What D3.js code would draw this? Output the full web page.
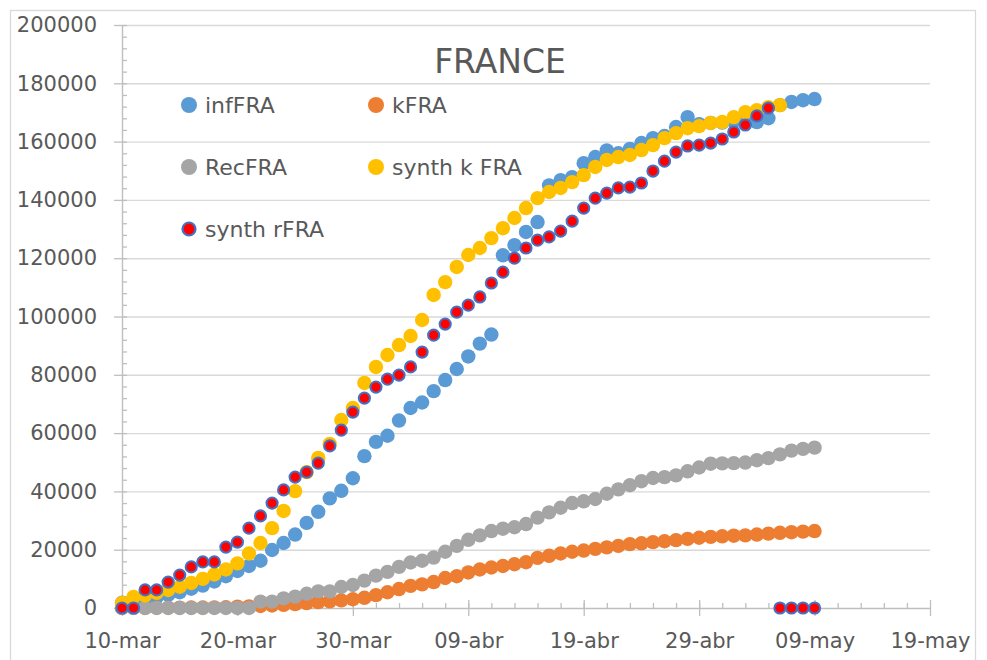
<!DOCTYPE html>
<html>
<head>
<meta charset="utf-8">
<script src="https://cdnjs.cloudflare.com/ajax/libs/d3/7.8.5/d3.min.js"></script>
<style>
body { margin: 0; background: #fff; }
text { font-family: "DejaVu Sans", sans-serif; fill: #595959; }
</style>
</head>
<body>
<div id="chart"></div>
<script>
var margin = {top: 25, right: 57, bottom: 52, left: 122};
var width = 987 - margin.left - margin.right;
var height = 660 - margin.top - margin.bottom;

// Data Setup (one value per day, starting 10-mar)
var startDay = "2020-03-10";
var endDay = "2020-05-19";
var xTickDays = ["2020-03-10", "2020-03-20", "2020-03-30", "2020-04-09", "2020-04-19", "2020-04-29", "2020-05-09", "2020-05-19"];
var yTicks = [0, 20000, 40000, 60000, 80000, 100000, 120000, 140000, 160000, 180000, 200000];
var seriesNames = ["infFRA", "kFRA", "RecFRA", "synth k FRA", "synth rFRA"];

var infFRA = [1800, 2300, 2900, 3700, 4500, 5400, 6600, 7700, 9100, 10900,
  12700, 14400, 16200, 19900, 22300, 25200, 29200, 33000, 37600, 40200,
  44500, 52100, 57000, 59100, 64300, 68600, 70500, 74400, 78200, 82000,
  86300, 90700, 93800, 121000, 124500, 129000, 132400, 145000, 146800, 147800,
  152600, 154700, 157000, 156000, 157500, 159500, 161200, 161900, 165000, 168400,
  166000, 166400, 166500, 167000, 167800, 166700, 168000, 172500, 173600, 174200,
  174600];
var kFRA = [30, 50, 60, 80, 90, 100, 150, 150, 200, 250,
  450, 550, 700, 850, 1100, 1350, 1700, 2000, 2300, 2600,
  3000, 3500, 4400, 5400, 6500, 7600, 8100, 8900, 10300, 10900,
  12200, 13200, 13900, 14400, 15000, 15700, 17200, 17900, 18700, 19300,
  19700, 20300, 20800, 21300, 21900, 22200, 22600, 22900, 23300, 23700,
  24100, 24400, 24600, 24800, 24900, 25200, 25500, 25800, 26000, 26200,
  26400];
var RecFRA = [12, 12, 12, 12, 12, 12, 12, 12, 12, 12,
  12, 12, 2200, 2200, 3300, 3900, 4900, 5700, 5700, 7200,
  7900, 9400, 11100, 12400, 14100, 15600, 16200, 17300, 19300, 21300,
  23400, 24900, 26400, 27200, 27700, 28800, 31000, 32800, 34400, 36000,
  36600, 37400, 39200, 40700, 42100, 43500, 44600, 44900, 45500, 46900,
  48200, 49500, 49600, 49700, 49900, 50700, 51400, 52700, 54000, 54600,
  55000];
var synthKFRA = [1700, 3800, 4300, 5200, 6200, 7300, 8600, 10000, 11500, 13200,
  15300, 18700, 22300, 27400, 33300, 40100, 46600, 51500, 56300, 64500,
  68600, 77200, 82700, 86800, 90200, 93300, 98800, 107400, 111800, 117000,
  121100, 123500, 126900, 130300, 133800, 137200, 140600, 142700, 144100, 146100,
  148500, 151300, 153700, 154700, 155400, 157100, 158800, 161200, 162900, 164600,
  165300, 166400, 166700, 168400, 170100, 170800, 171800, 172500, null, null,
  null];
var synthRFRA = [0, 0, 6200, 6200, 8900, 11300, 14100, 15800, 15800, 20900,
  22600, 27400, 31600, 36000, 40500, 44900, 46600, 49700, 55600, 61000,
  67200, 72000, 75800, 78500, 79900, 82700, 87800, 93600, 97400, 101500,
  103900, 106700, 111500, 115200, 120000, 123500, 126200, 127300, 129300, 132700,
  137200, 140600, 142300, 144100, 144400, 145800, 149900, 153300, 156400, 158500,
  158800, 159500, 160900, 163300, 165700, 168800, 171500, 0, 0, 0,
  0];

var parseDate = d3.utcParse("%Y-%m-%d");
var esLocale = d3.timeFormatLocale({
    dateTime: "%x, %X", date: "%d/%m/%Y", time: "%-H:%M:%S", periods: ["AM", "PM"],
    days: ["domingo", "lunes", "martes", "miércoles", "jueves", "viernes", "sábado"],
    shortDays: ["dom", "lun", "mar", "mié", "jue", "vie", "sáb"],
    months: ["enero", "febrero", "marzo", "abril", "mayo", "junio", "julio", "agosto", "septiembre", "octubre", "noviembre", "diciembre"],
    shortMonths: ["ene", "feb", "mar", "abr", "may", "jun", "jul", "ago", "sep", "oct", "nov", "dic"]
});
var dayFormat = esLocale.utcFormat("%d-%b");

var days = d3.utcDays(parseDate(startDay), d3.utcDay.offset(parseDate(startDay), infFRA.length));

var series = [
    {name: seriesNames[0], values: infFRA, fill: "#5B9BD5", stroke: "none", r: 7.2},
    {name: seriesNames[1], values: kFRA, fill: "#ED7D31", stroke: "none", r: 7.2},
    {name: seriesNames[2], values: RecFRA, fill: "#A5A5A5", stroke: "none", r: 7.2},
    {name: seriesNames[3], values: synthKFRA, fill: "#FFC000", stroke: "none", r: 7.2},
    {name: seriesNames[4], values: synthRFRA, fill: "#FF0000", stroke: "#4472C4", r: 5.6}
];

var xScale = d3.scaleUtc()
               .domain([parseDate(startDay), parseDate(endDay)])
               .range([0, width]);

var yScale = d3.scaleLinear()
               .domain([0, 200000])
               .range([height, 0]);

var svg = d3.select("#chart")
            .append("svg")
            .attr("width", 987)
            .attr("height", 660);

// chart border
svg.append("rect")
    .attr("x", 10.5).attr("y", 10.5)
    .attr("width", 965).attr("height", 700)
    .attr("fill", "none")
    .attr("stroke", "#d9d9d9")
    .attr("stroke-width", 1.3);

var g = svg.append("g")
    .attr("transform", "translate(" + [margin.left, margin.top] + ")");

// gridlines
g.append("g")
    .attr("class", "grid")
    .call(d3.axisLeft(yScale).tickValues(yTicks.slice(1)).tickSize(-width).tickFormat(""))
    .call(function(s) {
        s.select(".domain").remove();
        s.selectAll("line").attr("stroke", "#d9d9d9").attr("stroke-width", 1.4);
    });

// y minor ticks
g.append("g")
    .call(d3.axisRight(yScale).tickValues(d3.range(0, 200001, 4000)).tickSize(5).tickFormat(""))
    .call(function(s) {
        s.select(".domain").remove();
        s.selectAll("line").attr("stroke", "#bfbfbf").attr("stroke-width", 1.3);
    });

// y-axis
g.append("g")
    .attr("class", "y_axis")
    .call(d3.axisLeft(yScale).tickValues(yTicks).tickFormat(d3.format("d")).tickSize(8).tickPadding(17).tickSizeOuter(0))
    .call(function(s) {
        s.select(".domain").attr("stroke", "#bfbfbf").attr("stroke-width", 1.4);
        s.selectAll("line").attr("stroke", "#bfbfbf").attr("stroke-width", 1.3);
        s.selectAll("text").style("font-size", "21px").attr("fill", "#595959");
    });

// x minor ticks
g.append("g")
    .attr("transform", "translate(0," + height + ")")
    .call(d3.axisTop(xScale).tickValues(d3.utcDays(parseDate(startDay), parseDate(endDay), 2)).tickSize(5).tickFormat(""))
    .call(function(s) {
        s.select(".domain").remove();
        s.selectAll("line").attr("stroke", "#bfbfbf").attr("stroke-width", 1.3);
    });

// x-axis
g.append("g")
    .attr("class", "x_axis")
    .attr("transform", "translate(0," + height + ")")
    .call(d3.axisBottom(xScale).tickValues(xTickDays.map(parseDate)).tickFormat(dayFormat).tickSize(8).tickPadding(17).tickSizeOuter(0))
    .call(function(s) {
        s.select(".domain").attr("stroke", "#bfbfbf").attr("stroke-width", 1.4);
        s.selectAll("line").attr("y1", -8).attr("stroke", "#bfbfbf").attr("stroke-width", 1.3);
        s.selectAll("text").style("font-size", "21px").attr("fill", "#595959");
    });

// points
series.forEach(function(s) {
    var pts = s.values.map(function(v, i) { return {date: days[i], value: v}; })
                      .filter(function(d) { return d.value !== null; });
    g.append("g")
        .selectAll("circle")
        .data(pts)
        .enter()
        .append("circle")
        .attr("cx", function(d) { return xScale(d.date); })
        .attr("cy", function(d) { return yScale(d.value); })
        .attr("r", s.r)
        .attr("fill", s.fill)
        .attr("stroke", s.stroke)
        .attr("stroke-width", 2);
});

// title
svg.append("text")
    .attr("x", 500)
    .attr("y", 73)
    .attr("text-anchor", "middle")
    .style("font-size", "33px")
    .text("FRANCE");

// legend
var legend = svg.append("g")
    .selectAll("g")
    .data(series)
    .enter()
    .append("g")
    .attr("transform", function(d, i) {
        return "translate(" + (189 + (i % 2) * 187) + "," + (105 + Math.floor(i / 2) * 62) + ")";
    });

legend.append("circle")
    .attr("r", function(d) { return d.stroke === "none" ? 8 : 6.5; })
    .attr("fill", function(d) { return d.fill; })
    .attr("stroke", function(d) { return d.stroke; })
    .attr("stroke-width", 2.2);

legend.append("text")
    .attr("x", 16)
    .attr("dy", "0.36em")
    .style("font-size", "22px")
    .text(function(d) { return d.name; });
</script>
</body>
</html>
